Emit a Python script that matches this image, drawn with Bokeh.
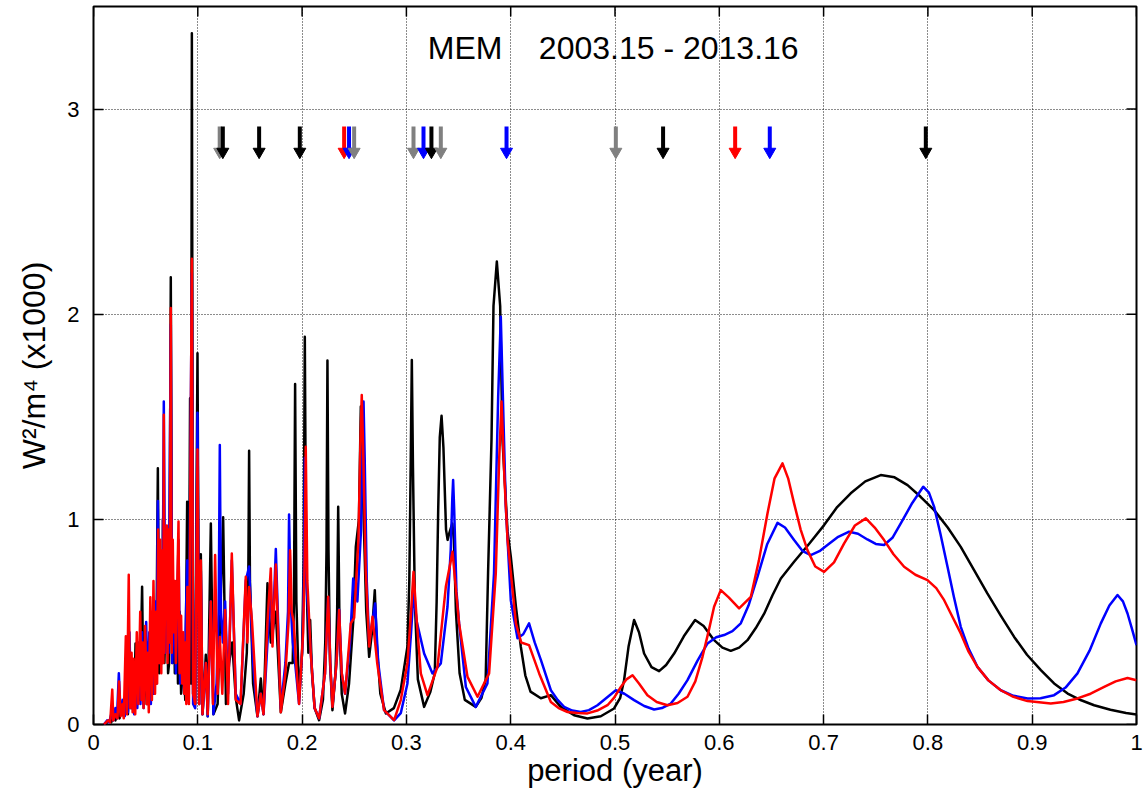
from bokeh.plotting import figure
from bokeh.models import Range1d, FixedTicker, ColumnDataSource, Label
from bokeh.embed import file_html
from bokeh.resources import INLINE

FONT = "Liberation Sans"

# ---------------- data ----------------
x_ticks = [0.0, 0.1, 0.2, 0.3, 0.4, 0.5, 0.6, 0.7, 0.8, 0.9, 1.0]
x_tick_labels = ["0", "0.1", "0.2", "0.3", "0.4", "0.5", "0.6", "0.7", "0.8", "0.9", "1"]
y_ticks = [0, 1, 2, 3]
y_tick_labels = ["0", "1", "2", "3"]

# (period, power) readings for each spectrum
black_pts = [
    (0.010, 0.00), (0.013, 0.01), (0.015, 0.02), (0.017, 0.01), (0.019, 0.04), (0.021, 0.02),
    (0.023, 0.06), (0.025, 0.03), (0.027, 0.08), (0.029, 0.04), (0.031, 0.15), (0.033, 0.05),
    (0.035, 0.25), (0.036, 0.08), (0.0375, 0.30), (0.039, 0.08), (0.0403, 0.395), (0.0415, 0.10),
    (0.043, 0.30), (0.0445, 0.12), (0.0466, 0.671), (0.048, 0.10), (0.0495, 0.35), (0.051, 0.10),
    (0.0525, 0.40), (0.054, 0.12), (0.0555, 0.45), (0.057, 0.15), (0.0585, 0.50), (0.060, 0.20),
    (0.0617, 1.249), (0.063, 0.25), (0.0645, 0.80), (0.066, 0.30), (0.0665, 1.00), (0.068, 0.30),
    (0.070, 0.85), (0.0715, 0.25), (0.0725, 0.30), (0.0741, 2.18), (0.0755, 0.30), (0.077, 0.59),
    (0.078, 0.25), (0.0795, 0.70), (0.081, 0.20), (0.0825, 0.55), (0.084, 0.15), (0.0863, 0.30),
    (0.088, 0.12), (0.0898, 1.086), (0.0912, 0.15), (0.0926, 1.59), (0.0934, 0.20), (0.0943, 3.37),
    (0.0955, 0.15), (0.0975, 0.10), (0.0997, 1.81), (0.1013, 0.10), (0.1029, 0.83), (0.1045, 0.05),
    (0.1077, 0.34), (0.1095, 0.04), (0.1125, 0.98), (0.1150, 0.05), (0.1190, 0.10), (0.1243, 1.01),
    (0.1270, 0.10), (0.1300, 0.30), (0.1330, 0.40), (0.1364, 0.13), (0.1396, 0.02), (0.1440, 0.15),
    (0.1470, 0.35), (0.1484, 0.70), (0.1492, 1.335), (0.1500, 0.70), (0.1530, 0.20), (0.1572, 0.04),
    (0.1604, 0.224), (0.1630, 0.05), (0.1668, 0.688), (0.1700, 0.40), (0.1748, 0.55), (0.1796, 0.06),
    (0.1840, 0.20), (0.1875, 0.30), (0.1910, 0.30), (0.1922, 0.60), (0.1933, 1.66), (0.1945, 0.60),
    (0.1971, 0.135), (0.2000, 0.35), (0.2015, 0.80), (0.2026, 1.89), (0.2038, 0.80), (0.2060, 0.35),
    (0.2077, 0.509), (0.2095, 0.25), (0.2120, 0.08), (0.2163, 0.021), (0.2200, 0.12), (0.2222, 0.40),
    (0.2234, 0.85), (0.2243, 1.774), (0.2253, 0.85), (0.2268, 0.30), (0.2291, 0.07), (0.2320, 0.25),
    (0.2336, 0.55), (0.2346, 1.061), (0.2358, 0.50), (0.2380, 0.15), (0.2412, 0.054), (0.2450, 0.20),
    (0.2490, 0.50), (0.2515, 0.866), (0.2545, 1.00), (0.2563, 1.55), (0.2585, 1.10), (0.2615, 0.55),
    (0.2643, 0.33), (0.2670, 0.45), (0.2697, 0.655), (0.2715, 0.40), (0.2750, 0.15), (0.2803, 0.054),
    (0.2880, 0.08), (0.2946, 0.17), (0.3010, 0.38), (0.3028, 0.70), (0.3042, 1.30), (0.3052, 1.777),
    (0.3063, 1.25), (0.3081, 0.60), (0.3110, 0.22), (0.3170, 0.086), (0.3230, 0.16), (0.3272, 0.25),
    (0.3290, 0.60), (0.3305, 1.05), (0.3320, 1.40), (0.3337, 1.505), (0.3355, 1.35), (0.3380, 0.95),
    (0.3395, 0.90), (0.3410, 0.93), (0.3440, 0.98), (0.3455, 0.90), (0.3475, 0.55), (0.3510, 0.25),
    (0.3560, 0.12), (0.3665, 0.086), (0.3720, 0.13), (0.3760, 0.22), (0.3783, 0.737), (0.3816, 1.39),
    (0.3835, 2.04), (0.3867, 2.257), (0.3899, 2.04), (0.3921, 1.39), (0.3970, 0.94), (0.4001, 0.818),
    (0.4050, 0.574), (0.4097, 0.379), (0.4140, 0.24), (0.4190, 0.160), (0.4289, 0.128), (0.4385, 0.143),
    (0.4480, 0.086), (0.4608, 0.045), (0.4736, 0.029), (0.4864, 0.040), (0.4991, 0.078), (0.5050, 0.13),
    (0.5087, 0.216), (0.5130, 0.38), (0.5183, 0.509), (0.5230, 0.45), (0.5279, 0.346), (0.5350, 0.28),
    (0.5423, 0.26), (0.5490, 0.29), (0.5567, 0.346), (0.5660, 0.43), (0.5768, 0.509), (0.5850, 0.48),
    (0.5950, 0.411), (0.6030, 0.375), (0.6110, 0.359), (0.6190, 0.375), (0.6270, 0.411), (0.6350, 0.47),
    (0.6430, 0.54), (0.6510, 0.63), (0.6590, 0.712), (0.6717, 0.793), (0.6860, 0.88), (0.7005, 0.972),
    (0.7130, 1.06), (0.7260, 1.127), (0.7400, 1.185), (0.7548, 1.216), (0.7680, 1.205), (0.7805, 1.167),
    (0.7930, 1.11), (0.8060, 1.045), (0.8190, 0.96), (0.8315, 0.866), (0.8440, 0.755), (0.8570, 0.639),
    (0.8700, 0.53), (0.8827, 0.427), (0.8950, 0.34), (0.9083, 0.265), (0.9210, 0.20), (0.9340, 0.151),
    (0.9470, 0.118), (0.9594, 0.094), (0.9750, 0.072), (0.9900, 0.056), (1.0000, 0.049),
]

blue_pts = [
    (0.010, 0.00), (0.013, 0.02), (0.015, 0.01), (0.017, 0.05), (0.019, 0.02), (0.021, 0.08),
    (0.0225, 0.03), (0.0243, 0.25), (0.026, 0.05), (0.028, 0.12), (0.030, 0.04), (0.0315, 0.35),
    (0.033, 0.06), (0.0345, 0.45), (0.036, 0.08), (0.0375, 0.30), (0.039, 0.05), (0.0405, 0.30),
    (0.042, 0.08), (0.0435, 0.40), (0.045, 0.10), (0.0465, 0.45), (0.048, 0.08), (0.0505, 0.50),
    (0.052, 0.10), (0.0535, 0.45), (0.055, 0.10), (0.0565, 0.55), (0.058, 0.15), (0.0595, 0.60),
    (0.0605, 0.20), (0.0617, 1.09), (0.063, 0.30), (0.0645, 0.75), (0.066, 0.30), (0.0674, 1.574),
    (0.069, 0.35), (0.0705, 0.85), (0.072, 0.35), (0.0741, 1.95), (0.0755, 0.30), (0.0775, 0.65),
    (0.079, 0.25), (0.0815, 0.90), (0.083, 0.20), (0.085, 0.40), (0.087, 0.15), (0.0898, 0.80),
    (0.0912, 0.15), (0.0943, 2.20), (0.0955, 0.10), (0.0975, 0.08), (0.0997, 1.52), (0.1013, 0.10),
    (0.1029, 0.75), (0.1045, 0.05), (0.1077, 0.30), (0.1095, 0.04), (0.1125, 0.60), (0.1150, 0.05),
    (0.1180, 0.20), (0.1200, 0.55), (0.1211, 1.362), (0.1222, 0.55), (0.1240, 0.40), (0.1262, 0.60),
    (0.1290, 0.15), (0.1326, 0.80), (0.1364, 0.15), (0.1410, 0.10), (0.1460, 0.70), (0.1492, 0.77),
    (0.1530, 0.30), (0.1572, 0.04), (0.1604, 0.15), (0.1630, 0.05), (0.1668, 0.40), (0.1700, 0.70),
    (0.1716, 0.40), (0.1748, 0.855), (0.1796, 0.08), (0.1840, 0.30), (0.1865, 0.55), (0.1875, 1.024),
    (0.1890, 0.60), (0.1910, 0.40), (0.1933, 0.30), (0.1971, 0.10), (0.2005, 0.40), (0.2018, 0.75),
    (0.2026, 1.30), (0.2040, 0.70), (0.2083, 0.35), (0.2120, 0.08), (0.2163, 0.03), (0.2220, 0.25),
    (0.2250, 0.62), (0.2270, 0.30), (0.2291, 0.09), (0.2330, 0.30), (0.2355, 0.56), (0.2380, 0.25),
    (0.2412, 0.15), (0.2460, 0.40), (0.2490, 0.712), (0.2530, 0.60), (0.2565, 0.95), (0.2580, 1.40),
    (0.2589, 1.574), (0.2600, 1.30), (0.2620, 0.70), (0.2643, 0.40), (0.2700, 0.59), (0.2730, 0.30),
    (0.2786, 0.07), (0.2882, 0.02), (0.2946, 0.055), (0.3010, 0.20), (0.3045, 0.45), (0.3068, 0.639),
    (0.3100, 0.50), (0.3170, 0.346), (0.3250, 0.249), (0.3330, 0.298), (0.3394, 0.574), (0.3425, 0.85),
    (0.3440, 1.10), (0.3448, 1.192), (0.3458, 1.05), (0.3480, 0.65), (0.3505, 0.494), (0.3570, 0.183),
    (0.3665, 0.086), (0.3777, 0.20), (0.3840, 0.737), (0.3880, 1.60), (0.3905, 1.988), (0.3930, 1.50),
    (0.3953, 1.061), (0.4001, 0.606), (0.4065, 0.42), (0.4120, 0.44), (0.4176, 0.493), (0.4230, 0.40),
    (0.4290, 0.314), (0.4385, 0.167), (0.4450, 0.12), (0.4512, 0.086), (0.4590, 0.068), (0.4672, 0.061),
    (0.4750, 0.07), (0.4832, 0.094), (0.4920, 0.13), (0.5008, 0.167), (0.5090, 0.15), (0.5183, 0.119),
    (0.5280, 0.09), (0.5375, 0.073), (0.5450, 0.08), (0.5535, 0.102), (0.5610, 0.15), (0.5695, 0.216),
    (0.5790, 0.31), (0.5887, 0.395), (0.5970, 0.425), (0.6046, 0.436), (0.6126, 0.455), (0.6206, 0.493),
    (0.6280, 0.58), (0.6366, 0.72), (0.6460, 0.88), (0.6558, 0.983), (0.6630, 0.96), (0.6717, 0.899),
    (0.6800, 0.845), (0.6877, 0.826), (0.6960, 0.845), (0.7037, 0.875), (0.7140, 0.915), (0.7245, 0.94),
    (0.7330, 0.93), (0.7420, 0.902), (0.7500, 0.88), (0.7580, 0.875), (0.7660, 0.91), (0.7740, 0.98),
    (0.7850, 1.08), (0.7955, 1.159), (0.8010, 1.13), (0.8060, 1.061), (0.8120, 0.93), (0.8188, 0.769),
    (0.8250, 0.62), (0.8315, 0.476), (0.8390, 0.37), (0.8475, 0.281), (0.8580, 0.215), (0.8699, 0.167),
    (0.8820, 0.14), (0.8955, 0.127), (0.9080, 0.128), (0.9210, 0.143), (0.9320, 0.18), (0.9434, 0.249),
    (0.9550, 0.36), (0.9658, 0.493), (0.9740, 0.58), (0.9818, 0.631), (0.9870, 0.60), (0.9914, 0.541),
    (0.9960, 0.46), (1.0000, 0.387),
]

red_pts = [
    (0.010, 0.00), (0.014, 0.02), (0.016, 0.01), (0.018, 0.17), (0.019, 0.02), (0.021, 0.05),
    (0.023, 0.03), (0.0245, 0.21), (0.026, 0.04), (0.028, 0.10), (0.029, 0.03), (0.031, 0.43),
    (0.032, 0.05), (0.0338, 0.73), (0.035, 0.08), (0.0365, 0.35), (0.0375, 0.06), (0.0385, 0.32),
    (0.040, 0.05), (0.0415, 0.45), (0.043, 0.10), (0.0448, 0.55), (0.046, 0.12), (0.047, 0.40),
    (0.048, 0.08), (0.0495, 0.48), (0.051, 0.10), (0.052, 0.35), (0.053, 0.06), (0.0545, 0.62),
    (0.056, 0.12), (0.0575, 0.70), (0.059, 0.15), (0.060, 0.55), (0.061, 0.20), (0.062, 0.95),
    (0.063, 0.30), (0.064, 0.90), (0.065, 0.25), (0.066, 0.85), (0.067, 0.30), (0.0674, 1.51),
    (0.068, 0.35), (0.069, 0.80), (0.0703, 0.97), (0.071, 0.30), (0.072, 0.95), (0.073, 0.40),
    (0.0741, 2.03), (0.075, 0.35), (0.076, 0.90), (0.077, 0.45), (0.078, 0.70), (0.079, 0.30),
    (0.080, 0.60), (0.0815, 0.99), (0.0825, 0.25), (0.084, 0.53), (0.085, 0.20), (0.086, 0.45),
    (0.087, 0.15), (0.088, 0.40), (0.089, 0.10), (0.090, 0.67), (0.0915, 0.10), (0.0943, 2.27),
    (0.0955, 0.15), (0.0975, 0.10), (0.0997, 1.34), (0.1013, 0.10), (0.1029, 0.80), (0.1045, 0.05),
    (0.1077, 0.30), (0.1095, 0.05), (0.1125, 0.60), (0.1145, 0.10), (0.1166, 0.826), (0.1190, 0.15),
    (0.1211, 0.427), (0.1235, 0.15), (0.1262, 0.558), (0.1290, 0.10), (0.1326, 0.834), (0.1364, 0.12),
    (0.1410, 0.10), (0.1460, 0.72), (0.1475, 0.40), (0.1492, 0.67), (0.1520, 0.50), (0.1572, 0.04),
    (0.1604, 0.15), (0.1630, 0.05), (0.1668, 0.50), (0.1700, 0.761), (0.1716, 0.38), (0.1748, 0.78),
    (0.1796, 0.06), (0.1840, 0.25), (0.1870, 0.50), (0.1885, 0.85), (0.1900, 0.55), (0.1920, 0.50),
    (0.1940, 0.32), (0.1971, 0.10), (0.2010, 0.45), (0.2025, 0.80), (0.2035, 1.354), (0.2050, 0.70),
    (0.2083, 0.347), (0.2120, 0.08), (0.2163, 0.03), (0.2220, 0.25), (0.2250, 0.623), (0.2270, 0.30),
    (0.2291, 0.086), (0.2330, 0.30), (0.2355, 0.558), (0.2380, 0.25), (0.2412, 0.151), (0.2467, 0.493),
    (0.2499, 0.52), (0.2540, 0.90), (0.2560, 1.40), (0.2572, 1.606), (0.2585, 1.35), (0.2610, 0.75),
    (0.2643, 0.38), (0.2675, 0.525), (0.2720, 0.30), (0.2786, 0.07), (0.2882, 0.021), (0.2946, 0.119),
    (0.3010, 0.30), (0.3045, 0.55), (0.3068, 0.744), (0.3100, 0.50), (0.3138, 0.249), (0.3202, 0.143),
    (0.3298, 0.281), (0.3378, 0.671), (0.3442, 0.842), (0.3505, 0.493), (0.3586, 0.232), (0.3682, 0.135),
    (0.3793, 0.249), (0.3857, 0.737), (0.3890, 1.30), (0.3912, 1.574), (0.3940, 1.20), (0.3970, 0.899),
    (0.4050, 0.493), (0.4100, 0.40), (0.4176, 0.387), (0.4273, 0.249), (0.4385, 0.11), (0.4460, 0.08),
    (0.4545, 0.061), (0.4640, 0.056), (0.4736, 0.054), (0.4830, 0.068), (0.4928, 0.094), (0.4990, 0.13),
    (0.5056, 0.183), (0.5110, 0.22), (0.5168, 0.24), (0.5230, 0.20), (0.5311, 0.143), (0.5400, 0.11),
    (0.5503, 0.094), (0.5600, 0.105), (0.5695, 0.135), (0.5770, 0.21), (0.5839, 0.33), (0.5900, 0.46),
    (0.5950, 0.574), (0.6014, 0.655), (0.6090, 0.62), (0.6190, 0.566), (0.6302, 0.622), (0.6380, 0.80),
    (0.6462, 1.029), (0.6530, 1.20), (0.6606, 1.273), (0.6660, 1.20), (0.6717, 1.078), (0.6780, 0.95),
    (0.6845, 0.85), (0.6920, 0.77), (0.7005, 0.744), (0.7100, 0.79), (0.7197, 0.883), (0.7300, 0.97),
    (0.7405, 1.005), (0.7490, 0.96), (0.7580, 0.899), (0.7670, 0.83), (0.7772, 0.769), (0.7880, 0.73),
    (0.7996, 0.704), (0.8080, 0.665), (0.8156, 0.606), (0.8230, 0.53), (0.8315, 0.444), (0.8390, 0.355),
    (0.8475, 0.281), (0.8580, 0.215), (0.8699, 0.167), (0.8820, 0.135), (0.8955, 0.114), (0.9178, 0.102),
    (0.9300, 0.11), (0.9434, 0.127), (0.9560, 0.15), (0.9690, 0.183), (0.9800, 0.21), (0.9914, 0.227),
    (1.0000, 0.216),
]

# marked periods (arrows) and their colours
arrow_period = [0.121, 0.124, 0.1588, 0.1978, 0.2403, 0.2450, 0.2499, 0.3068, 0.3164, 0.3240,
                0.3330, 0.3960, 0.5008, 0.5461, 0.6152, 0.6484, 0.7980]
arrow_color = ["#808080", "#000000", "#000000", "#000000", "#ff0000", "#0000ff", "#808080",
               "#808080", "#0000ff", "#000000", "#808080", "#0000ff", "#808080", "#000000",
               "#ff0000", "#0000ff", "#000000"]

title_left = "MEM"
title_right = "2003.15 - 2013.16"

# ---------------- figure ----------------
X_MAX, Y_MAX = 1.0, 3.5
p = figure(width=1145, height=798, x_range=Range1d(0, X_MAX), y_range=Range1d(0, Y_MAX),
           output_backend="svg", toolbar_location=None,
           min_border_left=93, min_border_right=9, min_border_top=6, min_border_bottom=74)
p.background_fill_color = "white"
p.border_fill_color = "white"
p.outline_line_color = "black"
p.outline_line_width = 2
p.outline_line_alpha = 1

def style_axis(ax, ticks, labels):
    ax.ticker = FixedTicker(ticks=ticks)
    ax.major_label_overrides = {t: l for t, l in zip(ticks, labels)}
    ax.axis_line_color = None
    ax.major_tick_in = 10
    ax.major_tick_out = 0
    ax.major_tick_line_width = 1.5
    ax.major_tick_line_color = "black"
    ax.minor_tick_line_color = None
    ax.major_label_text_font = FONT
    ax.major_label_text_color = "black"
    ax.major_label_text_font_size = "22px"
    ax.axis_label_text_font = FONT
    ax.axis_label_text_font_style = "normal"
    ax.axis_label_text_color = "black"

style_axis(p.xaxis[0], x_ticks, x_tick_labels)
style_axis(p.yaxis[0], y_ticks, y_tick_labels)
p.xaxis[0].major_label_standoff = 10
p.yaxis[0].major_label_standoff = 14
p.xaxis[0].axis_label = "period (year)"
p.yaxis[0].axis_label = "W²/m⁴ (x1000)"
p.xaxis[0].axis_label_text_font_size = "31px"
p.yaxis[0].axis_label_text_font_size = "32px"
p.xaxis[0].axis_label_standoff = 0
p.yaxis[0].axis_label_standoff = 12

for g, ticks in ((p.xgrid[0], x_ticks), (p.ygrid[0], y_ticks)):
    g.ticker = FixedTicker(ticks=ticks)
    g.grid_line_color = "black"
    g.grid_line_width = 1
    g.grid_line_dash = "1 2"
    g.grid_line_alpha = 0.9

# mirrored inward ticks on the top and right edges of the frame
TICK_X = 10 / 1043 * X_MAX
TICK_Y = 10 / 718 * Y_MAX
p.segment(x0=x_ticks, y0=[Y_MAX] * len(x_ticks), x1=x_ticks, y1=[Y_MAX - TICK_Y] * len(x_ticks),
          line_color="black", line_width=1.5)
p.segment(x0=[X_MAX] * len(y_ticks), y0=y_ticks, x1=[X_MAX - TICK_X] * len(y_ticks), y1=y_ticks,
          line_color="black", line_width=1.5)

# spectra
for pts, col in ((black_pts, "#000000"), (blue_pts, "#0000ff"), (red_pts, "#ff0000")):
    src = ColumnDataSource(dict(x=[a for a, b in pts], y=[b for a, b in pts]))
    p.line("x", "y", source=src, line_color=col, line_width=2.5, line_join="round")

# arrows
for i in range(len(arrow_period)):
    s = ColumnDataSource(dict(x=[arrow_period[i]], top=[2.915], shaft=[2.80], head=[2.792],
                              color=[arrow_color[i]]))
    p.segment(x0="x", y0="top", x1="x", y1="shaft", source=s, line_color="color", line_width=4)
    p.scatter(x="x", y="head", source=s, marker="inverted_triangle", size=12,
              fill_color="color", line_color="color", line_width=1)

# title inside plot
p.add_layout(Label(x=0.3205, y=3.30, text=title_left, text_font=FONT, text_font_size="32px",
                   text_color="black", text_baseline="alphabetic", text_align="left"))
p.add_layout(Label(x=0.427, y=3.30, text=title_right, text_font=FONT, text_font_size="32px",
                   text_color="black", text_baseline="alphabetic", text_align="left"))

open("out.html", "w").write(file_html(p, INLINE))
